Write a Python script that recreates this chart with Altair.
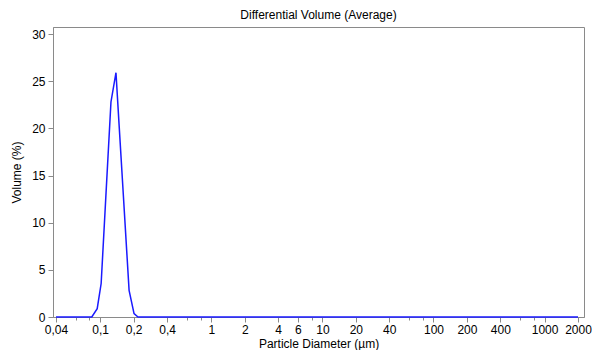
import altair as alt
import pandas as pd

# Particle size distribution
diameter = [0.04, 0.084, 0.094, 0.102, 0.112, 0.125, 0.1387, 0.148, 0.162, 0.182, 0.2017, 0.219, 2000]
volume = [0, 0, 0.89, 3.55, 12.4, 22.8, 25.9, 20.35, 12.7, 2.83, 0.36, 0, 0]

x_ticks = [0.04, 0.06, 0.08, 0.1, 0.2, 0.4, 0.6, 0.8, 1, 2, 4, 6, 8, 10, 20, 40,
           60, 80, 100, 200, 400, 600, 800, 1000, 2000]
minor_ticks = [0.06, 0.08, 0.6, 0.8, 8, 60, 80, 600, 800]
y_ticks = [0, 5, 10, 15, 20, 25, 30]

df = pd.DataFrame({"d": diameter, "v": volume})

minor_list = "[" + ",".join(str(m) for m in minor_ticks) + "]"

x_axis = alt.Axis(
    values=x_ticks,
    title="Particle Diameter (µm)",
    labelExpr=f"indexof({minor_list}, datum.value) >= 0 ? '' : replace(toString(datum.value), '.', ',')",
    tickSize={"condition": {"test": f"indexof({minor_list}, datum.value) >= 0", "value": 3}, "value": 5},
    grid=False,
    labelFlush=False,
    labelOverlap=False,
    labelPadding=2,
    titlePadding=3,
)

y_axis = alt.Axis(
    values=y_ticks,
    title="Volume (%)",
    grid=False,
    tickSize=5,
    labelPadding=3,
    titlePadding=8,
)

chart = (
    alt.Chart(df)
    .mark_line(color="#1a1aff", strokeWidth=1.5)
    .encode(
        x=alt.X("d:Q", scale=alt.Scale(type="log", domain=[0.0376, 2264], nice=False), axis=x_axis),
        y=alt.Y("v:Q", scale=alt.Scale(domain=[0, 30.75], nice=False, zero=True), axis=y_axis),
    )
    .properties(
        width=531,
        height=290,
        title=alt.TitleParams("Differential Volume (Average)", fontSize=12, fontWeight="normal",
                              font="Liberation Sans", color="black", offset=5),
        autosize="none",
        padding={"left": 45, "top": 19, "right": 8, "bottom": 33},
    )
    .configure_view(stroke="#8a8a8a", strokeWidth=1)
    .configure_axis(
        domainColor="#8a8a8a",
        tickColor="#8a8a8a",
        labelFont="Liberation Sans",
        titleFont="Liberation Sans",
        labelFontSize=12,
        titleFontSize=12,
        labelColor="black",
        titleColor="black",
        titleFontWeight="normal",
    )
)

chart.save("out.html", embed_options={"renderer": "svg", "actions": False})
